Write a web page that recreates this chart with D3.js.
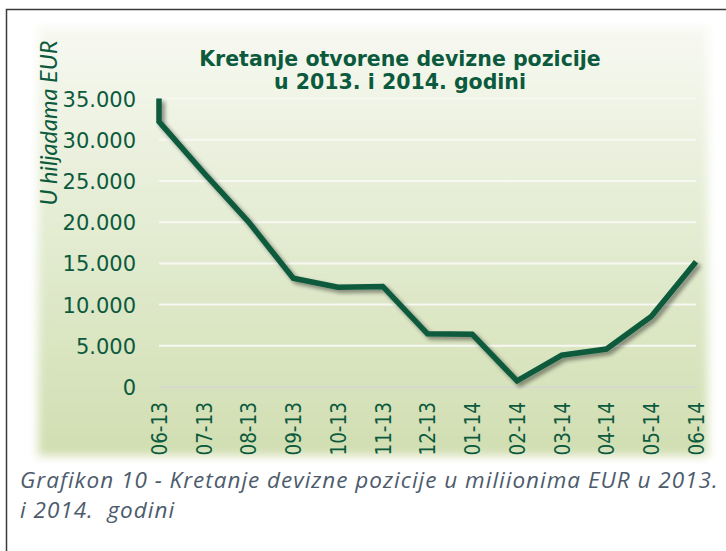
<!DOCTYPE html>
<html>
<head>
<meta charset="utf-8">
<script src="https://cdn.jsdelivr.net/npm/d3@7"></script>
<style>
  html, body { margin: 0; padding: 0; background: #ffffff; }
  svg { display: block; }
</style>
</head>
<body>
<svg id="chart" width="726" height="551"></svg>
<script>
// ---- data ----
const categories = ["06-13","07-13","08-13","09-13","10-13","11-13","12-13","01-14","02-14","03-14","04-14","05-14","06-14"];
const values = [32200, 26000, 20050, 13200, 12100, 12200, 6450, 6400, 750, 3850, 4600, 8550, 15200];
const firstPointTop = 35000; // short vertical start of the line at 06-13
const yTicks = [0, 5000, 10000, 15000, 20000, 25000, 30000, 35000];
const yTickLabels = ["0", "5.000", "10.000", "15.000", "20.000", "25.000", "30.000", "35.000"];
const titleLines = ["Kretanje otvorene devizne pozicije", "u 2013. i 2014. godini"];
const yAxisTitle = "U hiljadama EUR";
const captionLines = ["Grafikon 10 - Kretanje devizne pozicije u miliionima EUR u 2013.", "i 2014.\u00a0\u00a0godini"];

const svg = d3.select("#chart");
const defs = svg.append("defs");

const grad = defs.append("linearGradient").attr("id", "bg").attr("x1", 0).attr("y1", 0).attr("x2", 0).attr("y2", 1);
grad.append("stop").attr("offset", "0%").attr("stop-color", "#f7f9f1");
grad.append("stop").attr("offset", "35%").attr("stop-color", "#e8efda");
grad.append("stop").attr("offset", "100%").attr("stop-color", "#d1deb1");

const feather = defs.append("filter").attr("id", "feather").attr("x", "-5%").attr("y", "-5%").attr("width", "110%").attr("height", "110%");
feather.append("feGaussianBlur").attr("stdDeviation", 5);

const shadow = defs.append("filter").attr("id", "shadow").attr("x", "-10%").attr("y", "-10%").attr("width", "120%").attr("height", "120%");
shadow.append("feGaussianBlur").attr("in", "SourceAlpha").attr("stdDeviation", 2).attr("result", "b");
shadow.append("feOffset").attr("in", "b").attr("dx", 3).attr("dy", 3).attr("result", "o");
shadow.append("feComponentTransfer").attr("in", "o").attr("result", "s")
  .append("feFuncA").attr("type", "linear").attr("slope", 0.45);
const merge = shadow.append("feMerge");
merge.append("feMergeNode").attr("in", "s");
merge.append("feMergeNode").attr("in", "SourceGraphic");

// frame
svg.append("path").attr("d", "M6.5,551 L6.5,9.5 L726,9.5")
  .attr("fill", "none").attr("stroke", "#3a3a3a").attr("stroke-width", 1.5);

// panel
svg.append("rect").attr("x", 38).attr("y", 27).attr("width", 670).attr("height", 429)
  .attr("fill", "url(#bg)").attr("filter", "url(#feather)");

// scales
const x = d3.scalePoint().domain(categories).range([159, 696]);
const y = d3.scaleLinear().domain([0, 35000]).range([387, 98.6]);

// gridlines
svg.append("g").selectAll("line").data(yTicks).join("line")
  .attr("x1", x.range()[0]).attr("x2", x.range()[1])
  .attr("y1", d => y(d)).attr("y2", d => y(d))
  .attr("stroke", d => d === 0 ? "#d6d9cc" : "#f7f8f2")
  .attr("stroke-width", 2);

// y axis labels
const yAxis = d3.axisLeft(y).tickValues(yTicks).tickSize(0).tickPadding(0)
  .tickFormat((d, i) => yTickLabels[i]);
const gy = svg.append("g").attr("transform", "translate(136,0)").call(yAxis);
gy.select(".domain").remove();
gy.selectAll("text").attr("fill", "#0c5a3d").attr("font-family", "DejaVu Sans").attr("font-size", 21).attr("dy", "0.36em");

// x axis labels
const xAxis = d3.axisBottom(x).tickSize(0).tickPadding(0);
const gx = svg.append("g").attr("transform", "translate(0,402)").call(xAxis);
gx.select(".domain").remove();
gx.selectAll("text")
  .attr("fill", "#0c5a3d").attr("font-family", "DejaVu Sans Condensed, DejaVu Sans").attr("font-size", 20.5)
  .attr("text-anchor", "end").attr("transform", "rotate(-90)")
  .attr("x", 0).attr("y", 0).attr("dx", 0).attr("dy", "0.36em");

// line
const lineGen = d3.line().x(d => x(d.c)).y(d => y(d.v)).curve(d3.curveLinear);
const pts = [{c: categories[0], v: firstPointTop}].concat(categories.map((c, i) => ({c, v: values[i]})));
svg.append("path").datum(pts)
  .attr("d", lineGen)
  .attr("fill", "none").attr("stroke", "#0b5a3c").attr("stroke-width", 5.5)
  .attr("stroke-linejoin", "miter").attr("stroke-linecap", "butt")
  .attr("filter", "url(#shadow)");

// title
svg.append("g").selectAll("text").data(titleLines).join("text")
  .attr("x", 400).attr("y", (d, i) => 66 + i * 23)
  .attr("text-anchor", "middle")
  .attr("font-family", "DejaVu Sans").attr("font-weight", "bold").attr("font-size", 20.5)
  .attr("fill", "#0c5a3d")
  .text(d => d);

// y axis title
svg.append("text")
  .attr("transform", "translate(57,123) rotate(-90)")
  .attr("text-anchor", "middle")
  .attr("font-family", "Lato").attr("font-style", "italic").attr("font-size", 23.5)
  .attr("fill", "#0c5a3d")
  .text(yAxisTitle);

// caption
svg.append("g").selectAll("text").data(captionLines).join("text")
  .attr("x", 20).attr("y", (d, i) => 488 + i * 30)
  .attr("font-family", "Open Sans").attr("font-style", "italic").attr("font-size", 22.5)
  .attr("letter-spacing", 1)
  .attr("fill", "#4d5b6c")
  .text(d => d);
</script>
</body>
</html>
